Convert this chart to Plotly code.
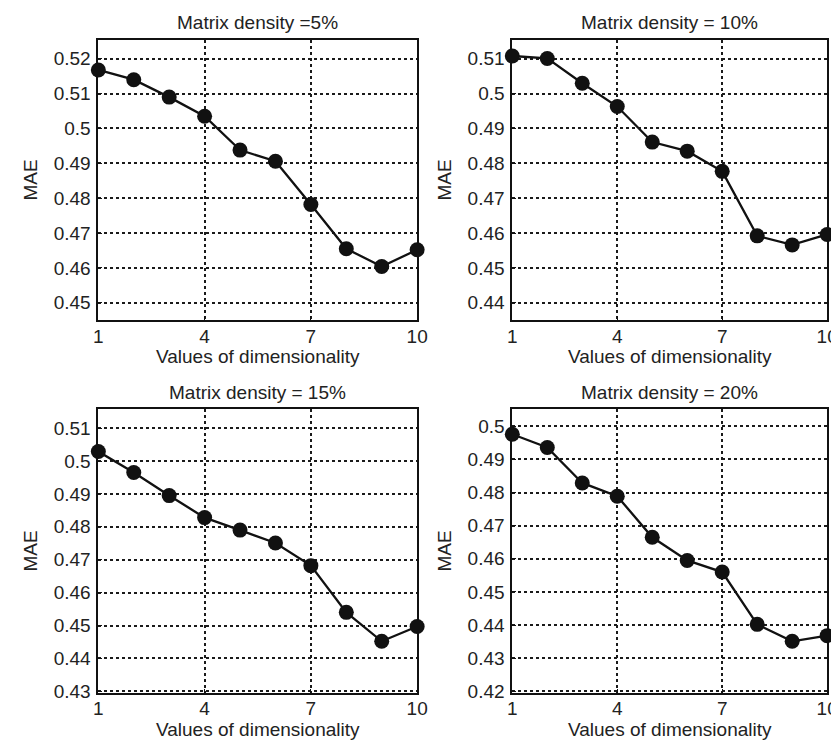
import plotly.graph_objects as go

dims = [1, 2, 3, 4, 5, 6, 7, 8, 9, 10]
x_ticks = [1, 4, 7, 10]

titles = ["Matrix density =5%", "Matrix density = 10%", "Matrix density = 15%", "Matrix density = 20%"]

mae_5 = [0.5168, 0.5140, 0.5090, 0.5035, 0.4938, 0.4906, 0.4782, 0.4655, 0.4604, 0.4652]
mae_10 = [0.5108, 0.5101, 0.5030, 0.4963, 0.4861, 0.4835, 0.4777, 0.4592, 0.4566, 0.4596]
mae_15 = [0.5029, 0.4965, 0.4895, 0.4828, 0.4790, 0.4751, 0.4682, 0.4540, 0.4452, 0.4497]
mae_20 = [0.4976, 0.4936, 0.4829, 0.4789, 0.4665, 0.4595, 0.4560, 0.4402, 0.4351, 0.4368]

y_ticks_5 = [0.45, 0.46, 0.47, 0.48, 0.49, 0.50, 0.51, 0.52]
y_ticks_10 = [0.44, 0.45, 0.46, 0.47, 0.48, 0.49, 0.50, 0.51]
y_ticks_15 = [0.43, 0.44, 0.45, 0.46, 0.47, 0.48, 0.49, 0.50, 0.51]
y_ticks_20 = [0.42, 0.43, 0.44, 0.45, 0.46, 0.47, 0.48, 0.49, 0.50]

series = [mae_5, mae_10, mae_15, mae_20]
yticks = [y_ticks_5, y_ticks_10, y_ticks_15, y_ticks_20]
yranges = [[0.445, 0.5255], [0.435, 0.5155], [0.4296, 0.5158], [0.4196, 0.5052]]

W, H = 839, 743
# panel pixel boxes: (left, right, top, bottom)
boxes = [(87, 412, 32, 316), (509, 830, 32, 316), (87, 412, 406, 693), (509, 830, 406, 693)]

FONT = "Liberation Sans, Arial, sans-serif"
TXT = "#222222"

def fmt(v):
    s = ("%.2f" % v).rstrip("0").rstrip(".")
    return s

fig = go.Figure()
annotations = []
for i in range(4):
    l, r, t, b = boxes[i]
    xa = "x" if i == 0 else "x%d" % (i + 1)
    ya = "y" if i == 0 else "y%d" % (i + 1)
    fig.add_trace(go.Scatter(
        x=dims, y=series[i], mode="lines+markers",
        line=dict(color="#111111", width=2.3),
        marker=dict(color="#111111", size=15),
        xaxis=xa, yaxis=ya, showlegend=False, cliponaxis=False,
    ))
    axkw = dict(
        showline=True, mirror=True, linecolor="#111111", linewidth=1.8,
        showgrid=True, gridcolor="#1a1a1a", griddash="dot", gridwidth=1.5,
        zeroline=False, ticks="inside", ticklen=4, tickcolor="#111111",
        tickfont=dict(family=FONT, size=19, color=TXT),
    )
    fig.layout[("xaxis" if i == 0 else "xaxis%d" % (i + 1))] = dict(
        domain=[l / W, r / W], anchor=ya, range=[1, 10], ticklabelstandoff=-2,
        tickvals=x_ticks, ticktext=[str(v) for v in x_ticks], **axkw)
    fig.layout[("yaxis" if i == 0 else "yaxis%d" % (i + 1))] = dict(
        domain=[1 - b / H, 1 - t / H], anchor=xa, range=yranges[i], ticklabelstandoff=2,
        tickvals=yticks[i], ticktext=[fmt(v) for v in yticks[i]], **axkw)
    cx = (l + r) / 2 / W
    common = dict(xref="paper", yref="paper", showarrow=False, xanchor="center", yanchor="middle",
                  font=dict(family=FONT, size=19, color=TXT))
    annotations.append(dict(text=titles[i], x=cx, y=1 - (t - 17) / H, **common))
    annotations.append(dict(text="Values of dimensionality", x=cx, y=1 - (b + 37) / H, **common))
    annotations.append(dict(text="MAE", x=(l - 69) / W, y=1 - (t + b) / 2 / H, textangle=-90, **common))

fig.update_layout(
    width=W, height=H, margin=dict(l=0, r=0, t=0, b=0),
    paper_bgcolor="white", plot_bgcolor="white",
    annotations=annotations,
)
fig.write_html("out.html")
